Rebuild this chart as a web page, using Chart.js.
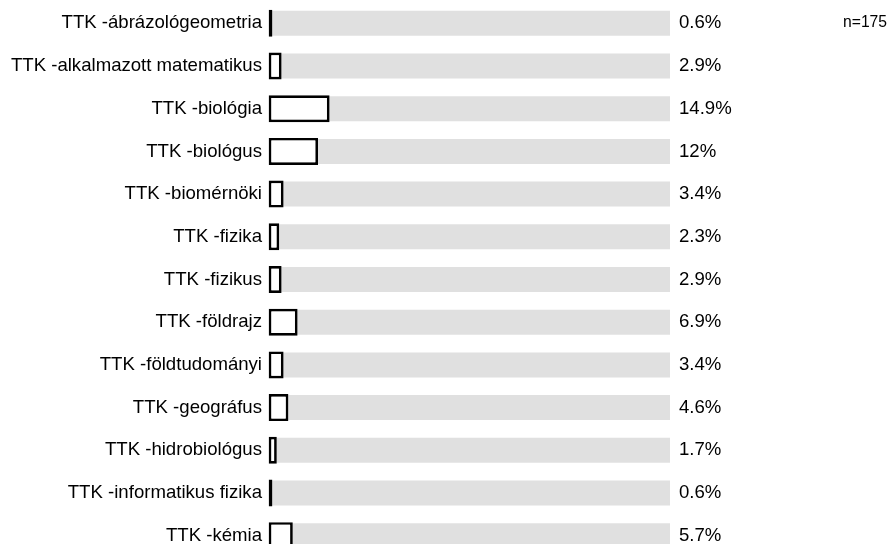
<!DOCTYPE html>
<html>
<head>
<meta charset="utf-8">
<script src="https://cdn.jsdelivr.net/npm/chart.js@4/dist/chart.umd.min.js"></script>
<style>
  html, body { margin: 0; padding: 0; background: #fff; overflow: hidden; width: 890px; height: 544px; }
  #wrap { position: absolute; left: 0; top: 0; width: 890px; height: 557px; }
</style>
</head>
<body>
<div id="wrap"><canvas id="c" width="890" height="557"></canvas></div>
<script>
const categories = [
  "TTK -ábrázológeometria",
  "TTK -alkalmazott matematikus",
  "TTK -biológia",
  "TTK -biológus",
  "TTK -biomérnöki",
  "TTK -fizika",
  "TTK -fizikus",
  "TTK -földrajz",
  "TTK -földtudományi",
  "TTK -geográfus",
  "TTK -hidrobiológus",
  "TTK -informatikus fizika",
  "TTK -kémia"
];
const values = [0.6, 2.9, 14.9, 12, 3.4, 2.3, 2.9, 6.9, 3.4, 4.6, 1.7, 0.6, 5.7];
const fullScale = [100, 100, 100, 100, 100, 100, 100, 100, 100, 100, 100, 100, 100];
const sampleNote = "n=175";

const FONT = '"Liberation Sans", Arial, sans-serif';

const labelPlugin = {
  id: 'valueLabels',
  afterDatasetsDraw(chart) {
    const ctx = chart.ctx;
    const meta = chart.getDatasetMeta(0);
    ctx.save();
    ctx.fillStyle = '#000';
    ctx.font = '18.6px ' + FONT;
    ctx.textAlign = 'left';
    ctx.textBaseline = 'middle';
    const x = chart.chartArea.right + 9;
    meta.data.forEach((bar, i) => {
      ctx.fillText(values[i] + '%', x, bar.y);
    });
    ctx.font = '15.7px ' + FONT;
    ctx.fillText(sampleNote, 843, 23);
    ctx.restore();
  }
};

new Chart(document.getElementById('c'), {
  type: 'bar',
  data: {
    labels: categories,
    datasets: [
      {
        data: values,
        backgroundColor: '#ffffff',
        borderColor: '#000000',
        borderWidth: 2.7,
        inflateAmount: 0,
        borderSkipped: false,
        base: -0.33,
        clip: false,
        barThickness: 27,
        grouped: false
      },
      {
        data: fullScale,
        backgroundColor: '#e0e0e0',
        borderWidth: 0,
        inflateAmount: 0,
        barThickness: 25,
        grouped: false
      }
    ]
  },
  options: {
    indexAxis: 'y',
    responsive: false,
    devicePixelRatio: 1,
    animation: false,
    layout: { padding: { left: 0, right: 220, top: 2, bottom: 0 } },
    plugins: { legend: { display: false }, tooltip: { enabled: false } },
    scales: {
      x: {
        display: false,
        min: 0,
        max: 100
      },
      y: {
        grid: { display: false, drawTicks: false },
        border: { display: false },
        ticks: {
          color: '#000',
          padding: 8,
          font: { family: FONT, size: 18.6 }
        },
        afterFit(scale) {
          scale.width = 270;
          scale.paddingTop = 0;
          scale.paddingBottom = 0;
        }
      }
    }
  },
  plugins: [labelPlugin]
});
</script>
</body>
</html>
